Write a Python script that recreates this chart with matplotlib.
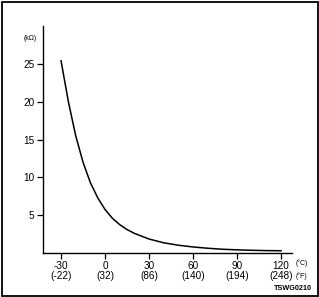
import matplotlib.pyplot as plt
from matplotlib.patches import Rectangle

plt.rcParams['font.family'] = ['Liberation Sans', 'DejaVu Sans']

# resistance curve (temperature in degC, resistance in kOhm)
temp_c = [-30, -25, -20, -15, -10, -5, 0, 5, 10, 15, 20, 30, 40, 50, 60, 70, 80, 90, 100, 110, 120]
res_k = [25.4, 20.0, 15.5, 12.0, 9.3, 7.3, 5.75, 4.6, 3.75, 3.1, 2.6, 1.85, 1.35, 1.03, 0.8,
         0.63, 0.5, 0.42, 0.36, 0.32, 0.3]

xticks = [-30, 0, 30, 60, 90, 120]
xticks_f = ['(-22)', '(32)', '(86)', '(140)', '(194)', '(248)']
yticks = [5, 10, 15, 20, 25]

fig = plt.figure(figsize=(3.19, 2.97), dpi=100)
ax = fig.add_axes([0.1348, 0.1481, 0.7806, 0.7643])

ax.plot(temp_c, res_k, color='black', lw=1.1)

ax.set_xlim(-42.3, 127.5)
ax.set_ylim(0, 30)
ax.set_xticks(xticks)
ax.set_xticklabels([f'{c}\n{f}' for c, f in zip(xticks, xticks_f)], linespacing=0.95)
ax.set_yticks(yticks)
ax.tick_params(axis='both', labelsize=7.2, length=4, width=0.9, direction='out', pad=2)

for s in ['top', 'right']:
    ax.spines[s].set_visible(False)
for s in ['left', 'bottom']:
    ax.spines[s].set_linewidth(1.0)

fig.text(30 / 319, 1 - 39 / 297, '(kΩ)', fontsize=5, ha='center', va='center')
fig.text(296 / 319, 1 - 263 / 297, '(°C)', fontsize=5, ha='left', va='center')
fig.text(296 / 319, 1 - 276 / 297, '(°F)', fontsize=5, ha='left', va='center')
fig.text(312 / 319, 1 - 288 / 297, 'TSWG0210', fontsize=5.2, fontweight='bold',
         ha='right', va='center')

fig.patches.append(Rectangle((1.5 / 319, 1.5 / 297), 316 / 319, 294 / 297,
                             transform=fig.transFigure, fill=False,
                             edgecolor='black', lw=1.3))

fig.savefig('out.png', dpi=100)
